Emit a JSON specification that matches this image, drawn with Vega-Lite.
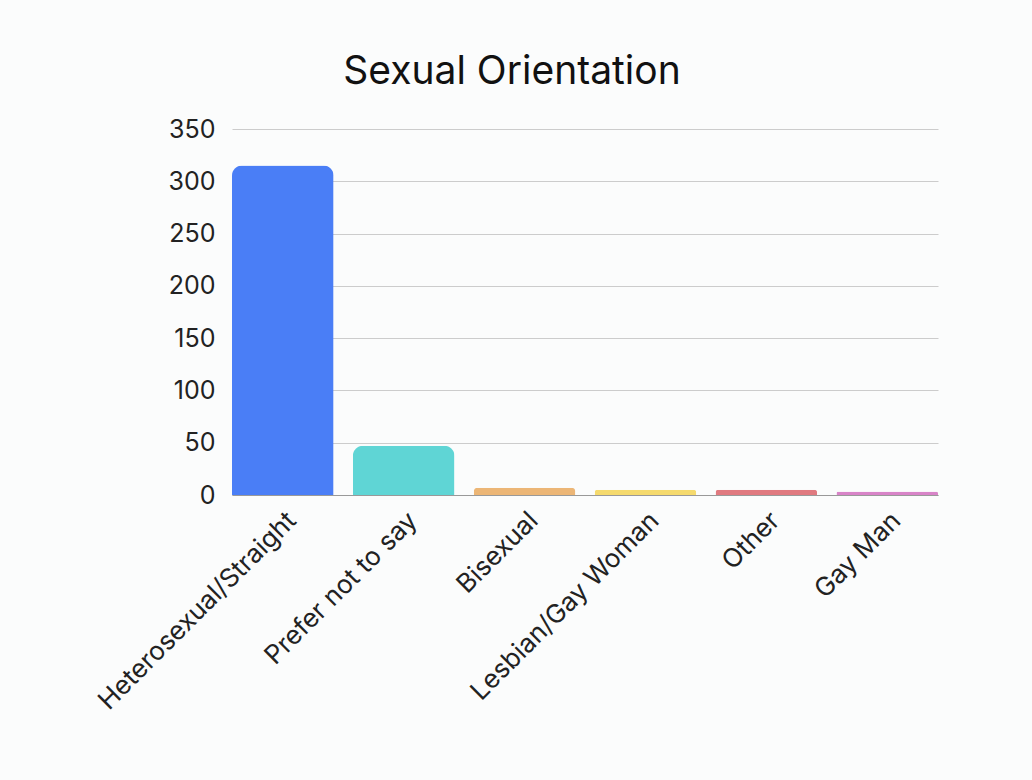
{
  "$schema": "https://vega.github.io/schema/vega-lite/v6.json",
  "width": 706,
  "height": 366,
  "autosize": {"type": "none"},
  "padding": {"left": 232, "top": 129, "right": 94, "bottom": 285},
  "background": "#fbfcfc",
  "title": {
    "text": "Sexual Orientation",
    "anchor": "middle",
    "frame": "group",
    "dx": -73,
    "offset": -6,
    "baseline": "alphabetic",
    "font": "Inter",
    "fontSize": 39,
    "fontWeight": "normal",
    "color": "#111111"
  },
  "data": {
    "values": [
      {"orientation": "Heterosexual/Straight", "count": 315},
      {"orientation": "Prefer not to say", "count": 47},
      {"orientation": "Bisexual", "count": 7},
      {"orientation": "Lesbian/Gay Woman", "count": 5},
      {"orientation": "Other", "count": 5},
      {"orientation": "Gay Man", "count": 3}
    ]
  },
  "mark": {"type": "bar", "cornerRadiusTopLeft": 10, "cornerRadiusTopRight": 10},
  "encoding": {
    "x": {
      "field": "orientation",
      "type": "nominal",
      "sort": null,
      "title": null,
      "scale": {"paddingInner": 0.16, "paddingOuter": 0},
      "axis": {
        "labelAngle": -45,
        "labelFont": "Inter",
        "labelFontSize": 26,
        "labelColor": "#222222",
        "labelPadding": 12,
        "ticks": false,
        "domain": true,
        "domainColor": "#999999",
        "labelLimit": 400
      }
    },
    "y": {
      "field": "count",
      "type": "quantitative",
      "title": null,
      "scale": {"domain": [0, 350]},
      "axis": {
        "values": [0, 50, 100, 150, 200, 250, 300, 350],
        "labelFont": "Inter",
        "labelFontSize": 25,
        "labelColor": "#222222",
        "labelPadding": 17,
        "ticks": false,
        "domain": false,
        "gridColor": "#cccccc",
        "gridWidth": 1
      }
    },
    "color": {
      "field": "orientation",
      "type": "nominal",
      "sort": null,
      "legend": null,
      "scale": {
        "domain": ["Heterosexual/Straight", "Prefer not to say", "Bisexual", "Lesbian/Gay Woman", "Other", "Gay Man"],
        "range": ["#4a7ef6", "#5fd5d5", "#ecb676", "#f5da6e", "#e07a80", "#d884c8"]
      }
    }
  },
  "config": {"view": {"stroke": null}}
}
